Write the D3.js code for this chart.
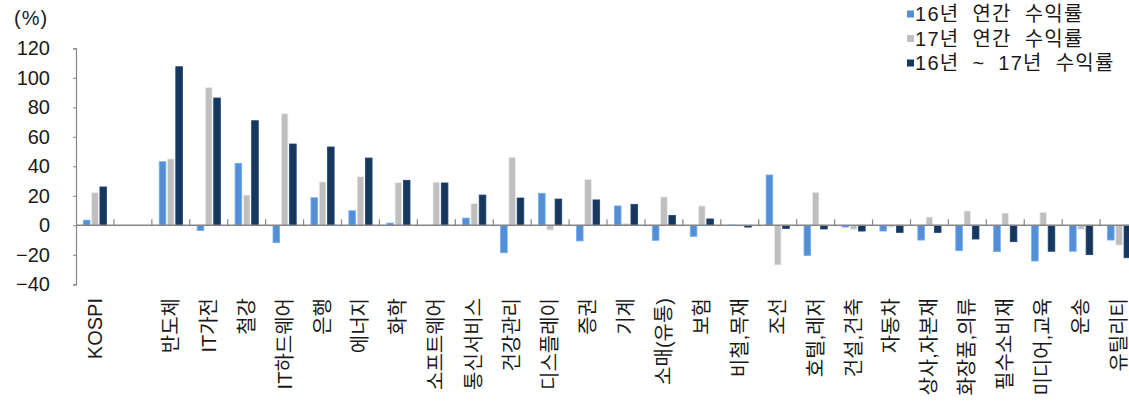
<!DOCTYPE html>
<html>
<head>
<meta charset="utf-8">
<script src="https://cdn.jsdelivr.net/npm/d3@7"></script>
<style>
  html, body { margin: 0; padding: 0; background: #fff; }
  svg { display: block; }
  text { font-family: "Liberation Sans", "Noto Sans CJK KR", sans-serif; fill: #1a1a1a; }
</style>
</head>
<body>
<svg id="chart" width="1129" height="414"></svg>
<script>
const categories = ["KOSPI", "", "반도체", "IT가전", "철강", "IT하드웨어", "은행", "에너지", "화학",
  "소프트웨어", "통신서비스", "건강관리", "디스플레이", "증권", "기계", "소매(유통)", "보험",
  "비철,목재", "조선", "호텔,레저", "건설,건축", "자동차", "상사,자본재", "화장품,의류",
  "필수소비재", "미디어,교육", "운송", "유틸리티"];

const ret16 = [3.5, null, 43.1, -3.6, 42.0, -11.8, 18.7, 9.9, 1.5,
  0, 4.9, -18.6, 21.7, -10.6, 13.1, -10.2, -7.5,
  0.2, 34.1, -20.4, -1.2, -3.9, -10.0, -17.2,
  -17.9, -24.2, -17.6, -10.0];

const ret17 = [22.1, null, 45.0, 93.5, 20.5, 75.7, 29.4, 33.0, 28.9,
  29.2, 14.9, 46.1, -3.2, 31.2, 1.3, 19.2, 13.1,
  -0.6, -26.9, 22.4, -2.7, -1.1, 5.6, 9.7,
  8.3, 8.8, -2.7, -13.4];

const ret1617 = [26.0, null, 107.5, 86.3, 70.9, 55.1, 53.1, 45.6, 30.5,
  28.7, 20.5, 18.5, 17.8, 17.2, 14.2, 6.7, 4.3,
  -1.2, -2.1, -2.5, -3.9, -4.8, -4.8, -9.3,
  -11.1, -17.6, -19.9, -22.0];

const seriesNames = ["16년 연간 수익률", "17년 연간 수익률", "16년 ~ 17년 수익률"];
const seriesColors = ["#558ED5", "#BFBFBF", "#17375E"];
const yTicks = [-40, -20, 0, 20, 40, 60, 80, 100, 120];
const yTickLabels = ["−40", "−20", "0", "20", "40", "60", "80", "100", "120"];
const unitLabel = "(%)";

const seriesValues = [ret16, ret17, ret1617];

const svg = d3.select("#chart");
const plotLeft = 76, catStep = 37.93;
const x = d3.scaleBand().domain(categories.map((c, i) => i))
  .range([plotLeft, plotLeft + catStep * categories.length]).padding(0);
const bw = x.bandwidth();
const x1 = d3.scaleBand().domain([0, 1, 2])
  .range([bw / 2 - 11.6, bw / 2 + 11.6]).paddingInner(0.2).paddingOuter(0);
const y = d3.scaleLinear().domain([-40, 120]).range([284.3, 48.3]);

const axisColor = "#868686";

// bars
const barData = [];
categories.forEach((c, i) => {
  seriesValues.forEach((arr, s) => {
    if (arr[i] !== null && arr[i] !== undefined) barData.push({ i, s, v: arr[i] });
  });
});

svg.append("g").selectAll("rect").data(barData).join("rect")
  .attr("x", d => x(d.i) + x1(d.s))
  .attr("width", x1.bandwidth())
  .attr("y", d => Math.min(y(d.v), y(0)))
  .attr("height", d => Math.abs(y(d.v) - y(0)))
  .attr("fill", d => seriesColors[d.s])
  .attr("stroke", d => d3.color(seriesColors[d.s]).brighter(0.6))
  .attr("stroke-width", 0.8);

// y axis
const yAxis = d3.axisLeft(y).tickValues(yTicks).tickSize(3)
  .tickFormat((d, i) => yTickLabels[i]);
const gy = svg.append("g").attr("transform", `translate(${plotLeft},0)`).call(yAxis);
gy.select(".domain").attr("stroke", axisColor).attr("stroke-width", 1.2);
gy.selectAll(".tick line").attr("stroke", axisColor);
gy.selectAll(".tick text")
  .attr("x", -26)
  .style("font-size", "20px")
  .style("font-family", "'Liberation Sans', sans-serif")
  .attr("fill", "#1a1a1a");

// zero line with category ticks
const gx = svg.append("g").attr("transform", `translate(0,${y(0)})`);
gx.append("line").attr("x1", plotLeft).attr("x2", 1129).attr("y1", 0).attr("y2", 0)
  .attr("stroke", axisColor).attr("stroke-width", 1.6);
gx.selectAll("line.ct").data(categories.slice(1).map((c, i) => i + 1)).join("line")
  .attr("class", "ct")
  .attr("x1", d => x(d)).attr("x2", d => x(d))
  .attr("y1", 0).attr("y2", -6)
  .attr("stroke", axisColor).attr("stroke-width", 1.2);

// category labels (rotated)
svg.append("g").selectAll("text").data(categories.map((c, i) => ({ c, i })).filter(d => d.c !== ""))
  .join("text")
  .attr("transform", d => `translate(${x(d.i) + bw / 2},298) rotate(-90)`)
  .attr("text-anchor", "end")
  .attr("dy", "0.35em")
  .style("font-size", "20px")
  .text(d => d.c);

// unit label
svg.append("text").attr("x", 14).attr("y", 25).style("font-size", "20px")
  .style("letter-spacing", "1px").text(unitLabel);

// legend
const legend = svg.append("g");
seriesNames.forEach((name, s) => {
  const cy = 14 + s * 24.5;
  legend.append("rect").attr("x", 907).attr("y", cy - 3.5).attr("width", 7).attr("height", 7)
    .attr("fill", seriesColors[s]);
  legend.append("text").attr("x", 915).attr("y", cy).attr("dy", "0.36em")
    .style("font-size", "20px").style("word-spacing", "6px").style("letter-spacing", "1.3px")
    .text(name);
});
</script>
</body>
</html>
